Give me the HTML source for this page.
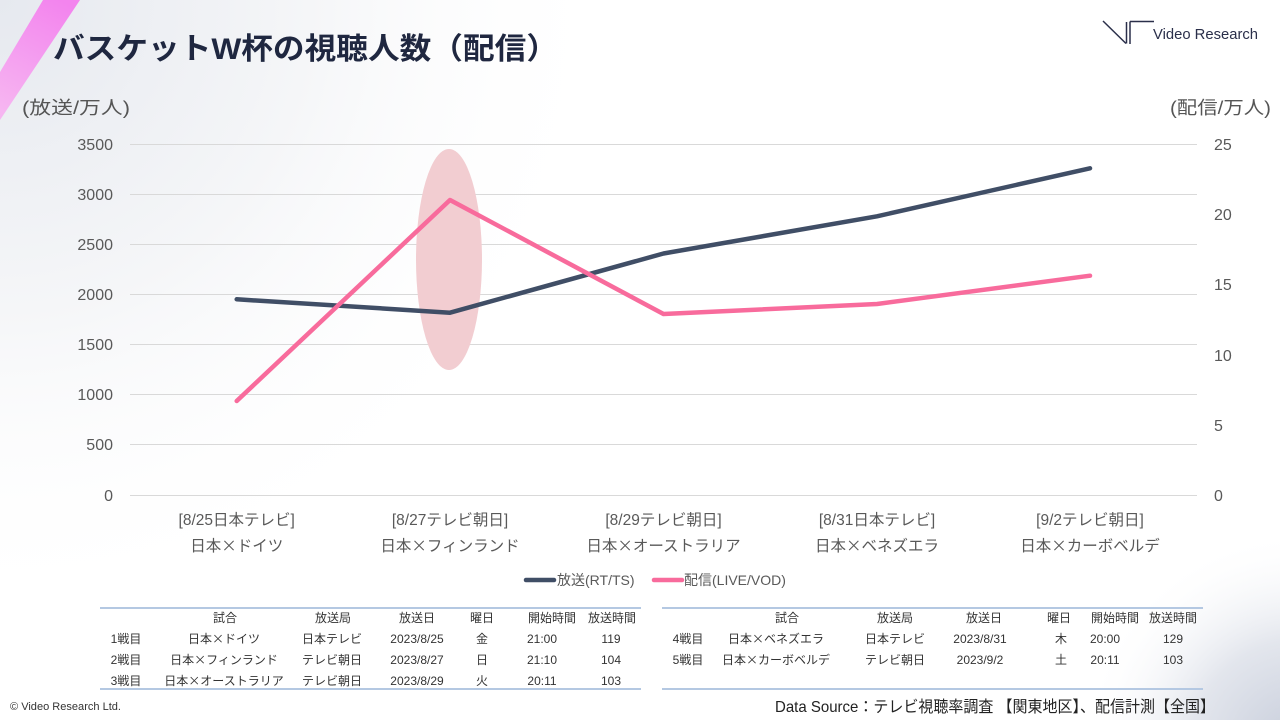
<!DOCTYPE html>
<html><head><meta charset="utf-8"><style>
html,body{margin:0;padding:0;background:#fff;}
svg{display:block;}
text{font-family:"Liberation Sans","Noto Sans CJK JP",sans-serif;}
.cj{font-family:"Noto Sans CJK JP",sans-serif;}
</style></head><body>
<svg width="1280" height="720" viewBox="0 0 1280 720" xmlns="http://www.w3.org/2000/svg">
<defs>
<radialGradient id="tl" cx="0" cy="0" r="620" gradientUnits="userSpaceOnUse">
<stop offset="0" stop-color="#e6e9ef"/><stop offset="0.5" stop-color="#f5f6f8"/><stop offset="1" stop-color="#ffffff" stop-opacity="0"/>
</radialGradient>
<radialGradient id="br" cx="1300" cy="750" r="220" gradientUnits="userSpaceOnUse">
<stop offset="0" stop-color="#c6ccda"/><stop offset="0.5" stop-color="#e3e6ed"/><stop offset="1" stop-color="#ffffff" stop-opacity="0"/>
</radialGradient>
<linearGradient id="stripe" x1="60" y1="0" x2="0" y2="110" gradientUnits="userSpaceOnUse">
<stop offset="0" stop-color="#f384ee"/><stop offset="1" stop-color="#f6b6f1"/>
</linearGradient>
</defs>
<rect width="1280" height="720" fill="#fff"/>
<rect width="1280" height="720" fill="url(#tl)"/>
<rect width="1280" height="720" fill="url(#br)"/>
<polygon points="43,0 80,0 0,120 0,72" fill="url(#stripe)"/>

<text x="53" y="59" font-size="30" font-weight="bold" fill="#1f2740" textLength="505" lengthAdjust="spacingAndGlyphs">バスケットW杯の視聴人数（配信）</text>

<g stroke="#2a2f4a" stroke-width="1.5" fill="none">
<line x1="1103" y1="21" x2="1126" y2="43.5"/>
<line x1="1126.5" y1="22" x2="1126.5" y2="43.5"/>
<line x1="1130" y1="21.5" x2="1130" y2="44"/>
<line x1="1130" y1="21.5" x2="1154" y2="21.5"/>
</g>
<text x="1153" y="39" font-size="15" fill="#2a2f4a" textLength="105" lengthAdjust="spacingAndGlyphs">Video Research</text>

<text x="22" y="114" font-size="18" fill="#555" textLength="108" lengthAdjust="spacingAndGlyphs">(放送/万人)</text>
<text x="1170" y="114" font-size="18" fill="#555" textLength="101" lengthAdjust="spacingAndGlyphs">(配信/万人)</text>

<g stroke="#d9d9d9" stroke-width="1">
<line x1="130" y1="144.5" x2="1197" y2="144.5"/>
<line x1="130" y1="194.5" x2="1197" y2="194.5"/>
<line x1="130" y1="244.5" x2="1197" y2="244.5"/>
<line x1="130" y1="294.5" x2="1197" y2="294.5"/>
<line x1="130" y1="344.5" x2="1197" y2="344.5"/>
<line x1="130" y1="394.5" x2="1197" y2="394.5"/>
<line x1="130" y1="444.5" x2="1197" y2="444.5"/>
<line x1="130" y1="495.5" x2="1197" y2="495.5"/>
</g>

<g font-size="16" fill="#595959" text-anchor="end">
<text x="113" y="150">3500</text>
<text x="113" y="200">3000</text>
<text x="113" y="250">2500</text>
<text x="113" y="300">2000</text>
<text x="113" y="350">1500</text>
<text x="113" y="400">1000</text>
<text x="113" y="450">500</text>
<text x="113" y="501">0</text>
</g>
<g font-size="16" fill="#595959">
<text x="1214" y="150">25</text>
<text x="1214" y="220">20</text>
<text x="1214" y="290">15</text>
<text x="1214" y="361">10</text>
<text x="1214" y="431">5</text>
<text x="1214" y="501">0</text>
</g>

<ellipse cx="449" cy="259.5" rx="33" ry="110.5" fill="#f2cdd1"/>

<polyline points="236.7,299.3 450,312.7 663.5,253.5 877,216.3 1090,168.3" fill="none" stroke="#404e66" stroke-width="4.5" stroke-linejoin="round" stroke-linecap="round"/>
<polyline points="236.7,401 450,200 663.5,314 877,304 1090,275.7" fill="none" stroke="#f86b9c" stroke-width="4.5" stroke-linejoin="round" stroke-linecap="round"/>

<g font-size="15.5" fill="#595959" text-anchor="middle">
<text x="236.7" y="525">[8/25日本テレビ]</text>
<text x="236.7" y="551" class="cj">日本×ドイツ</text>
<text x="450" y="525">[8/27テレビ朝日]</text>
<text x="450" y="551" class="cj">日本×フィンランド</text>
<text x="663.5" y="525">[8/29テレビ朝日]</text>
<text x="663.5" y="551" class="cj">日本×オーストラリア</text>
<text x="877" y="525">[8/31日本テレビ]</text>
<text x="877" y="551" class="cj">日本×ベネズエラ</text>
<text x="1090" y="525">[9/2テレビ朝日]</text>
<text x="1090" y="551" class="cj">日本×カーボベルデ</text>
</g>

<line x1="526" y1="580" x2="554" y2="580" stroke="#404e66" stroke-width="4.5" stroke-linecap="round"/>
<text x="557" y="585" font-size="14" fill="#595959">放送(RT/TS)</text>
<line x1="654" y1="580" x2="682" y2="580" stroke="#f86b9c" stroke-width="4.5" stroke-linecap="round"/>
<text x="684" y="585" font-size="14" fill="#595959">配信(LIVE/VOD)</text>

<g stroke="#b4c8e2" stroke-width="2">
<line x1="100" y1="608" x2="641" y2="608"/>
<line x1="100" y1="689" x2="641" y2="689"/>
<line x1="662" y1="608" x2="1203" y2="608"/>
<line x1="662" y1="689" x2="1203" y2="689"/>
</g>
<g font-size="12" fill="#333" text-anchor="middle">
<text x="225" y="622">試合</text>
<text x="333" y="622">放送局</text>
<text x="417" y="622">放送日</text>
<text x="482" y="622">曜日</text>
<text x="552" y="622">開始時間</text>
<text x="612" y="622">放送時間</text>

<text x="126" y="643">1戦目</text>
<text x="224" y="643" class="cj">日本×ドイツ</text>
<text x="332" y="643">日本テレビ</text>
<text x="417" y="643">2023/8/25</text>
<text x="482" y="643">金</text>
<text x="542" y="643">21:00</text>
<text x="611" y="643">119</text>

<text x="126" y="664">2戦目</text>
<text x="224" y="664" class="cj">日本×フィンランド</text>
<text x="332" y="664">テレビ朝日</text>
<text x="417" y="664">2023/8/27</text>
<text x="482" y="664">日</text>
<text x="542" y="664">21:10</text>
<text x="611" y="664">104</text>

<text x="126" y="685">3戦目</text>
<text x="224" y="685" class="cj">日本×オーストラリア</text>
<text x="332" y="685">テレビ朝日</text>
<text x="417" y="685">2023/8/29</text>
<text x="482" y="685">火</text>
<text x="542" y="685">20:11</text>
<text x="611" y="685">103</text>

<text x="787" y="622">試合</text>
<text x="895" y="622">放送局</text>
<text x="984" y="622">放送日</text>
<text x="1059" y="622">曜日</text>
<text x="1115" y="622">開始時間</text>
<text x="1173" y="622">放送時間</text>

<text x="688" y="643">4戦目</text>
<text x="776" y="643" class="cj">日本×ベネズエラ</text>
<text x="895" y="643">日本テレビ</text>
<text x="980" y="643">2023/8/31</text>
<text x="1061" y="643">木</text>
<text x="1105" y="643">20:00</text>
<text x="1173" y="643">129</text>

<text x="688" y="664">5戦目</text>
<text x="776" y="664" class="cj">日本×カーボベルデ</text>
<text x="895" y="664">テレビ朝日</text>
<text x="980" y="664">2023/9/2</text>
<text x="1061" y="664">土</text>
<text x="1105" y="664">20:11</text>
<text x="1173" y="664">103</text>
</g>

<text x="775" y="712" font-size="16" fill="#222" textLength="440" lengthAdjust="spacingAndGlyphs">Data Source：テレビ視聴率調査 【関東地区】、配信計測【全国】</text>
<text x="10" y="710" font-size="11" fill="#333" textLength="111" lengthAdjust="spacingAndGlyphs">© Video Research  Ltd.</text>
</svg>
</body></html>
